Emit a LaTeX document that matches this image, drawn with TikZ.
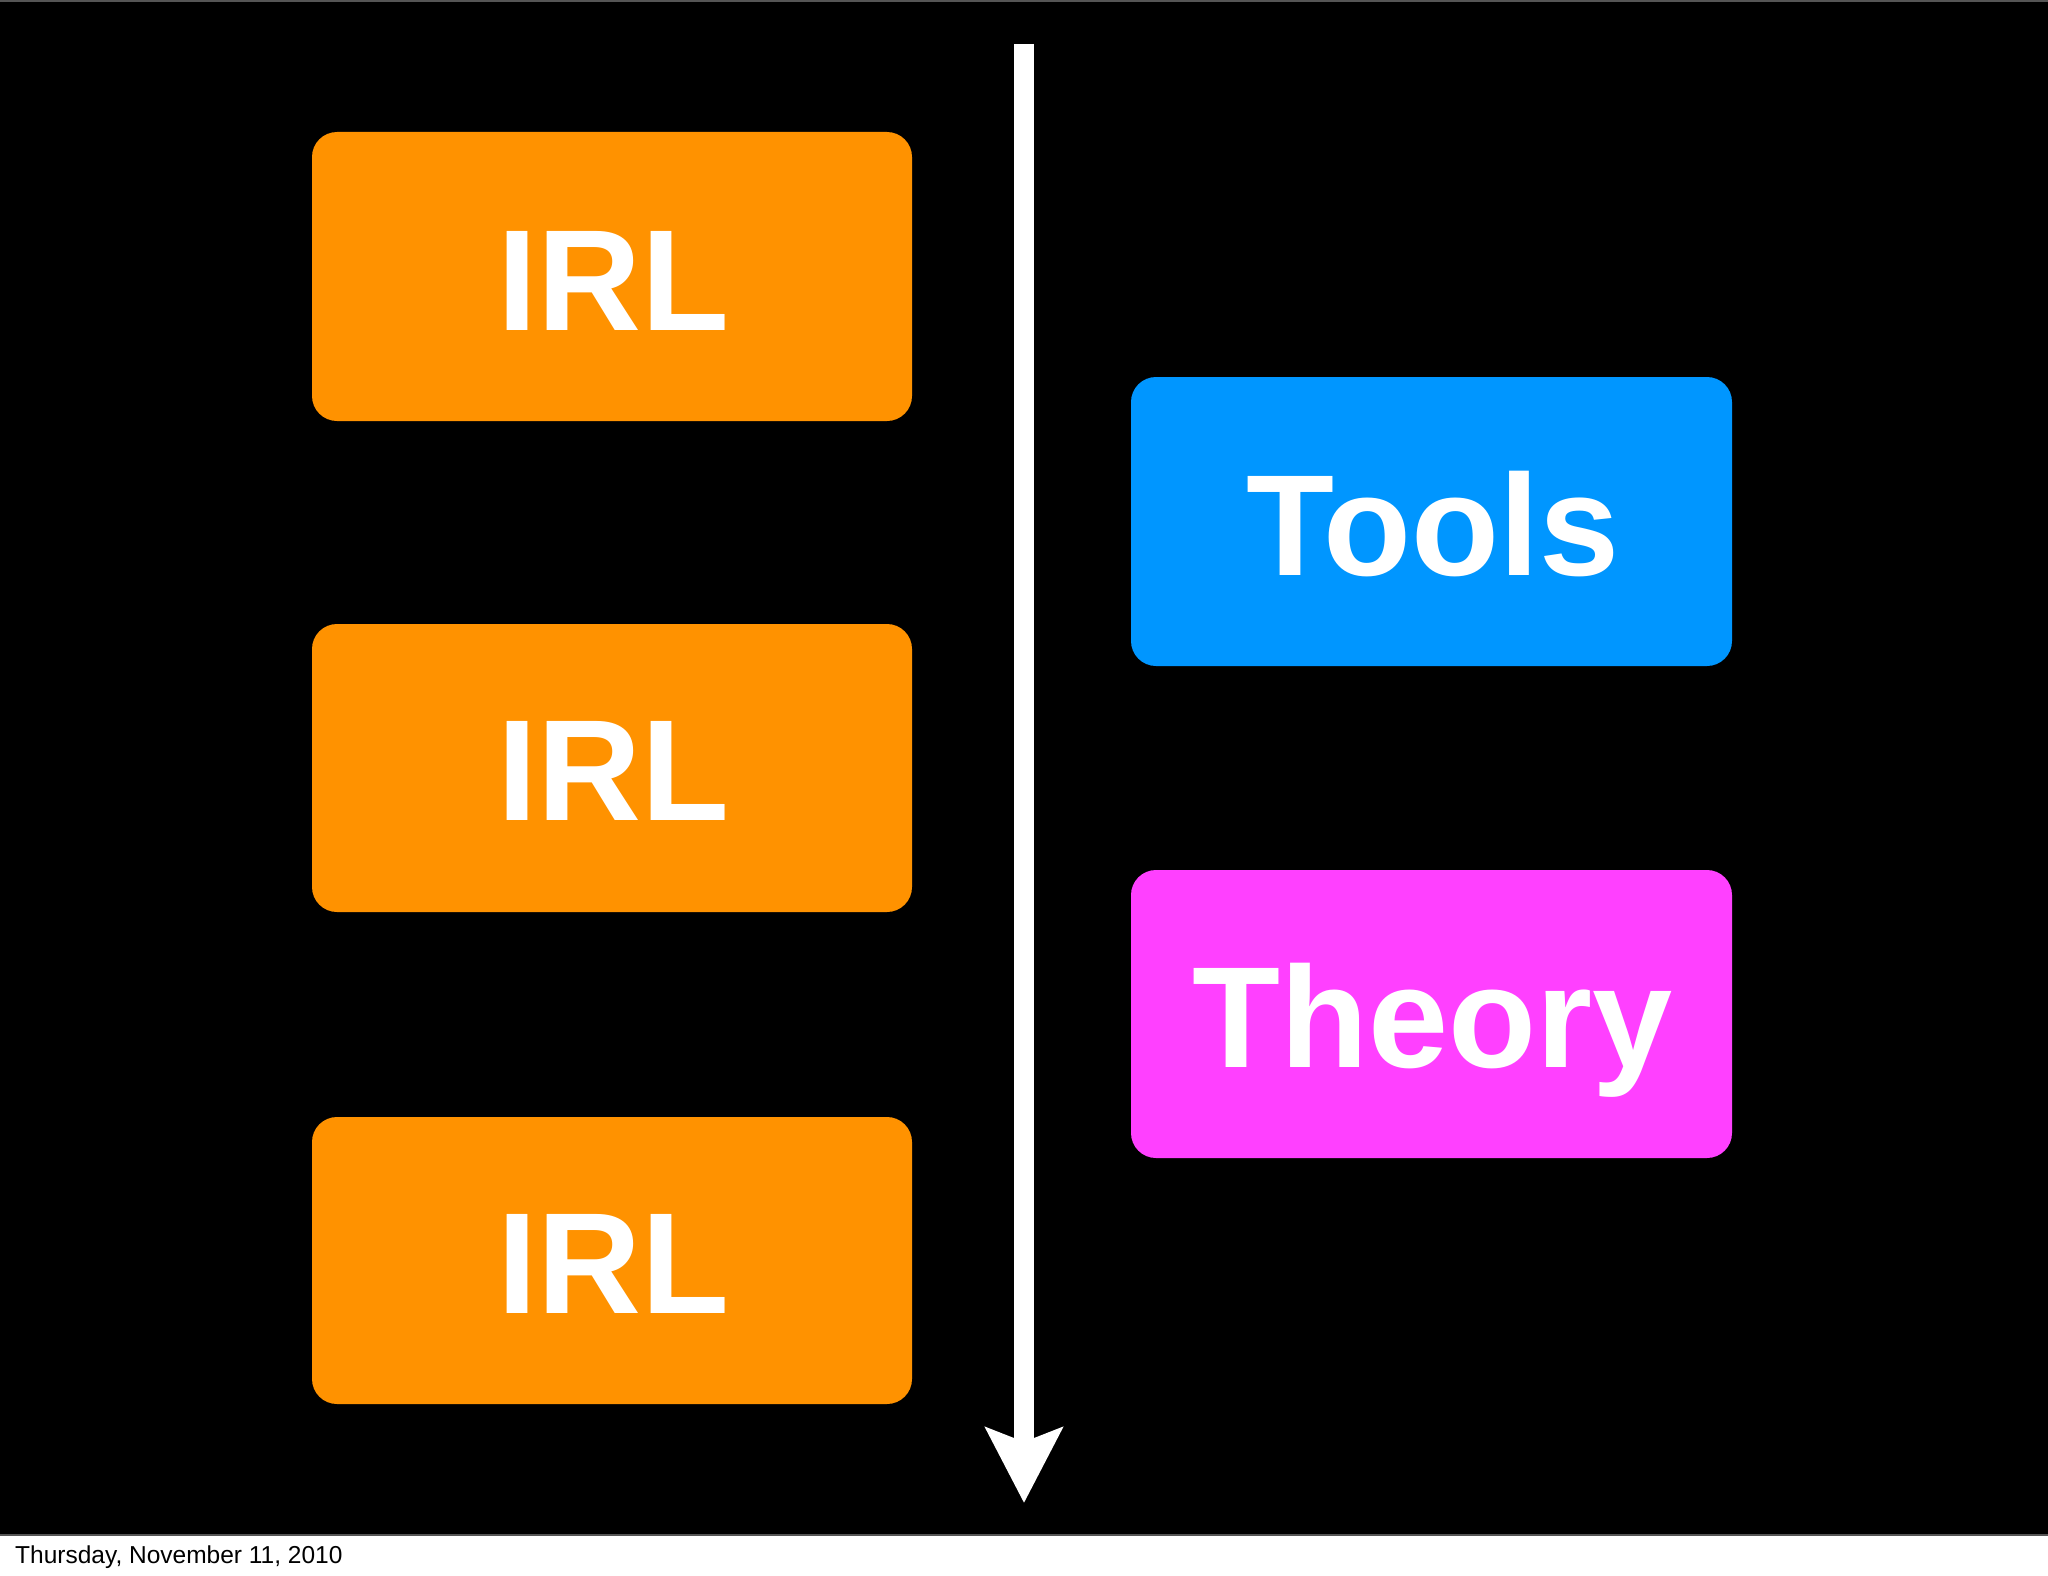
\documentclass[tikz,border=0pt]{standalone}
\usepackage{fontspec}
\setmainfont{Liberation Sans}
\usetikzlibrary{arrows.meta}
\definecolor{irlorange}{RGB}{255,146,0}
\definecolor{toolblue}{RGB}{0,150,255}
\definecolor{theorymag}{RGB}{255,64,255}
\definecolor{frame}{RGB}{85,85,85}
\tikzset{
  card/.style={rounded corners=25pt, inner sep=0pt},
  bigtxt/.style={text=white, font=\fontsize{144}{160}\selectfont\bfseries, anchor=base, inner sep=0pt},
  timearrow/.style={draw=white, line width=20pt, -{Stealth[length=75pt,width=76pt,inset=14pt]}}
}
\begin{document}
\begin{tikzpicture}[x=1pt,y=-1pt]
\useasboundingbox (0,0) rectangle (2048,1576);
\fill[white] (0,0) rectangle (2048,1576);
\fill[black] (0,0) rectangle (2048,1536);
\draw[frame, line width=2pt] (0,1) -- (2048,1) (0,1535) -- (2048,1535);
% cards
\fill[irlorange, card] (312,132) rectangle (912,421);
\fill[irlorange, card] (312,624) rectangle (912,912);
\fill[irlorange, card] (312,1117) rectangle (912,1404);
\fill[toolblue, card] (1131,377) rectangle (1732,666);
\fill[theorymag, card] (1131,870) rectangle (1732,1158);
% texts
\node[bigtxt] (irlA) at (613,330) {IRL};
\node[bigtxt] (irlB) at (613,820) {IRL};
\node[bigtxt] (irlC) at (613,1313) {IRL};
\node[bigtxt] (tools) at (1433,575) {Tools};
\node[bigtxt] (theory) at (1433,1067) {Theory};
% arrow
\coordinate (atop) at (1024,44);
\coordinate (atip) at (1024,1503);
\draw[timearrow] (atop) -- (atip);
% footer
\node[anchor=base west, inner sep=0pt, font=\fontsize{24.5}{28}\selectfont, text=black] (date) at (15,1563) {Thursday, November 11, 2010};
\end{tikzpicture}
\end{document}
